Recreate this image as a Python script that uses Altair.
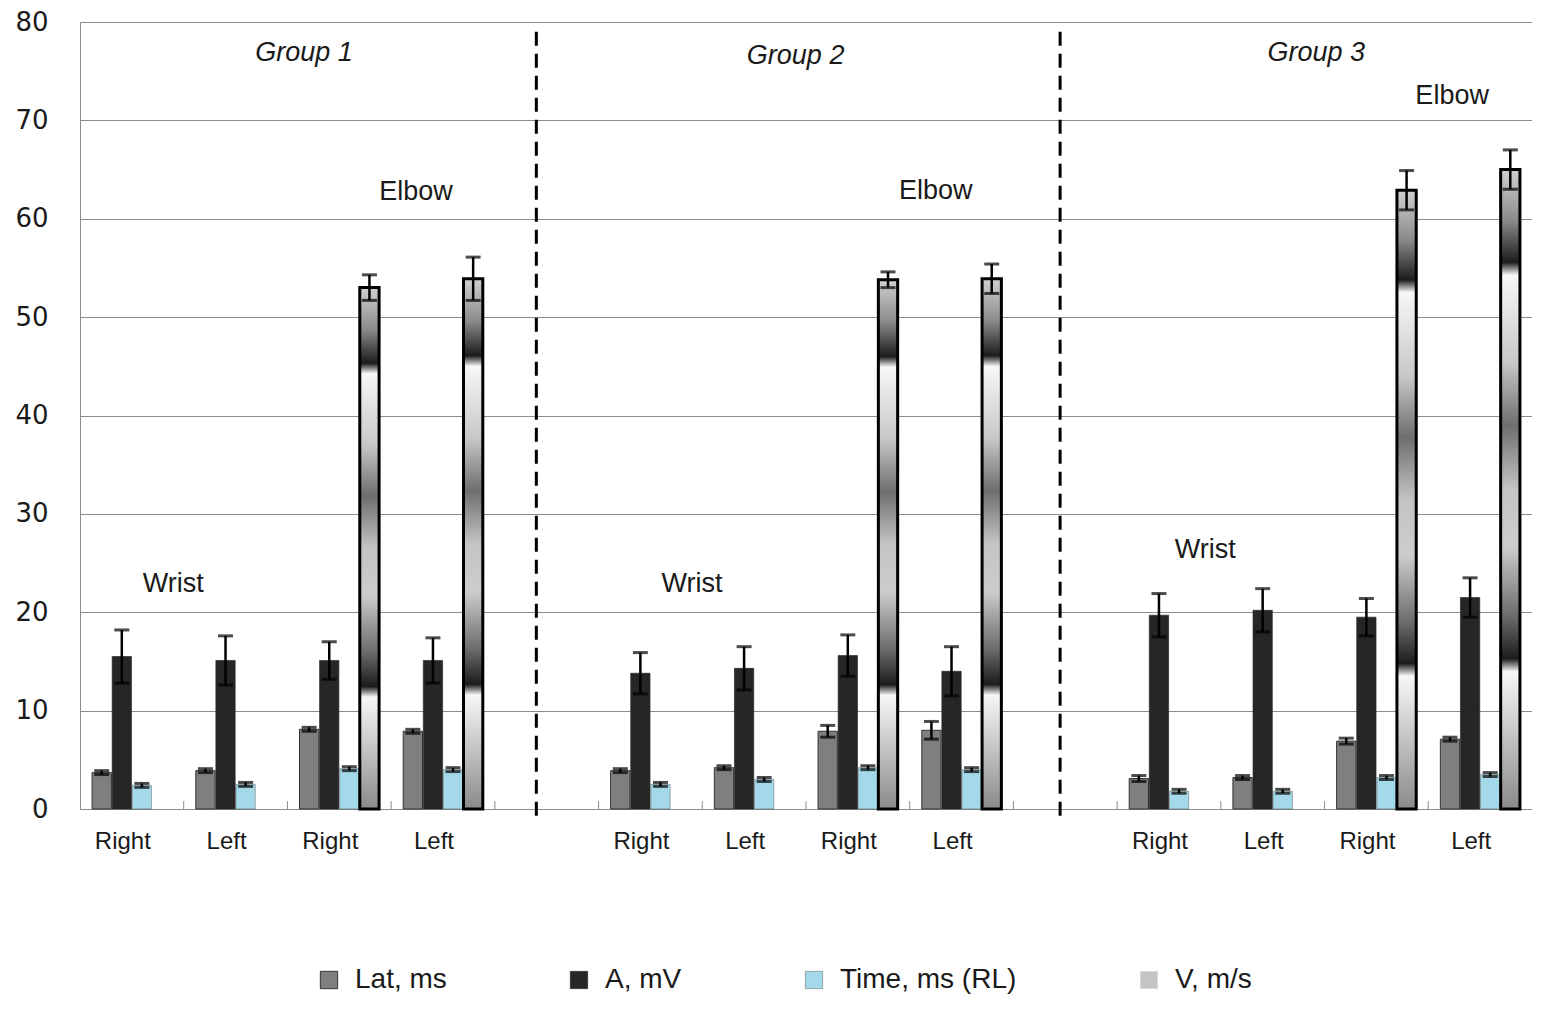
import altair as alt
import pandas as pd

# ---------------- data ----------------
groups = ["Group 1", "Group 2", "Group 3"]
sites = ["Wrist", "Wrist", "Elbow", "Elbow"]
sides = ["Right", "Left", "Right", "Left"]

series_names = ["Lat, ms", "A, mV", "Time, ms (RL)", "V, m/s"]

lat = [3.7, 3.9, 8.1, 7.9, 3.9, 4.2, 7.9, 8.0, 3.1, 3.2, 6.9, 7.1]
lat_err = [0.2, 0.2, 0.2, 0.2, 0.2, 0.2, 0.6, 0.9, 0.3, 0.2, 0.3, 0.2]
amp = [15.5, 15.1, 15.1, 15.1, 13.8, 14.3, 15.6, 14.0, 19.7, 20.2, 19.5, 21.5]
amp_err = [2.7, 2.5, 1.9, 2.3, 2.1, 2.2, 2.1, 2.5, 2.2, 2.2, 1.9, 2.0]
time = [2.4, 2.5, 4.1, 4.0, 2.5, 3.0, 4.2, 4.0, 1.8, 1.8, 3.2, 3.5]
time_err = [0.2, 0.2, 0.2, 0.2, 0.2, 0.2, 0.2, 0.2, 0.2, 0.2, 0.2, 0.2]
vel = [None, None, 53.0, 53.9, None, None, 53.8, 53.9, None, None, 62.9, 65.0]
vel_err = [None, None, 1.3, 2.2, None, None, 0.8, 1.5, None, None, 2.0, 2.0]

ann_group_text = ["Group 1", "Group 2", "Group 3"]
ann_group_x = [2.16, 6.9, 11.92]
ann_group_y = [76.8, 76.5, 76.8]
ann_site_text = ["Wrist", "Wrist", "Wrist", "Elbow", "Elbow", "Elbow"]
ann_site_x = [0.9, 5.9, 10.85, 3.24, 8.25, 13.23]
ann_site_y = [22.85, 22.85, 26.3, 62.7, 62.8, 72.5]

divider_x = [4.4, 9.45]
boundary_x = list(range(1, 14))

# ---------------- build tables ----------------
cats = []
rows = []
i = 0
for gi, g in enumerate(groups):
    for k in range(4):
        key = f"{g}|{sites[k]}|{sides[k]}"
        cats.append(key)
        for s, vals, errs in zip(series_names,
                                 [lat, amp, time, vel],
                                 [lat_err, amp_err, time_err, vel_err]):
            rows.append({"cat": key, "series": s, "outline": s,
                         "value": vals[i], "err": errs[i]})
        i += 1
    if gi < 2:
        cats.append(f"gap{gi + 1}")

df = pd.DataFrame(rows)
df = df[df["value"].notna()]

ann_g = pd.DataFrame({"t": ann_group_text, "x": ann_group_x, "y": ann_group_y})
ann_s = pd.DataFrame({"t": ann_site_text, "x": ann_site_x, "y": ann_site_y})
div_df = pd.DataFrame({"x": divider_x, "y": [79.0] * len(divider_x), "y2": [-0.8] * len(divider_x)})
bnd_df = pd.DataFrame({"x": boundary_x, "y": [0.0] * len(boundary_x), "y2": [0.8] * len(boundary_x)})

# ---------------- encodings ----------------
FONT = "Liberation Sans"
x_enc = alt.X("cat:N", sort=cats,
              scale=alt.Scale(domain=cats, paddingInner=0, paddingOuter=0),
              axis=alt.Axis(title=None, ticks=False, labelFontSize=24, labelFont=FONT,
                            labelColor="#1a1a1a", labelPadding=20, labelOffset=-9,
                            labelAngle=0, domainColor="#8c8c8c", grid=False,
                            labelExpr="indexof(datum.value, '|') >= 0 ? split(datum.value, '|')[2] : ''"))
xo_enc = alt.XOffset("series:N", sort=series_names,
                     scale=alt.Scale(domain=series_names, paddingInner=0.04, paddingOuter=0.6))
y_scale = alt.Scale(domain=[0, 80], nice=False, zero=True)
y_axis = alt.Axis(title=None, values=list(range(0, 81, 10)), ticks=False, labelFontSize=26,
                  labelFont="DejaVu Sans", labelColor="#1a1a1a", labelPadding=32,
                  domainColor="#8c8c8c", gridColor="#8c8c8c", gridWidth=1)

base = alt.Chart(df)

bars = base.mark_bar(stroke="#111111", strokeWidth=2.5).encode(
    x=x_enc,
    xOffset=xo_enc,
    y=alt.Y("value:Q", scale=y_scale, axis=y_axis),
    color=alt.Color("series:N", sort=series_names,
                    scale=alt.Scale(domain=series_names,
                                    range=["#7f7f7f", "#262626", "#a3d9e8", "#c4c4c4"]),
                    legend=alt.Legend(title=None, orient="none", direction="horizontal",
                                      legendX=235, legendY=944,
                                      labelFont=FONT, labelFontSize=28, labelColor="#1a1a1a",
                                      labelLimit=0,
                                      symbolType="square", symbolSize=300,
                                      symbolStrokeColor="#111111", symbolStrokeWidth=2.5,
                                      labelOffset=12, columnPadding=118)),
    stroke=alt.Stroke("outline:N", sort=series_names,
                      scale=alt.Scale(domain=series_names,
                                      range=["#333333", "#262626", "#1a1a1a", "#000000"]),
                      legend=None),
    strokeWidth=alt.StrokeWidth("outline:N", sort=series_names,
                                scale=alt.Scale(domain=series_names, range=[1, 0, 2, 3]),
                                legend=None),
)

gradient = {
    "gradient": "linear", "x1": 0, "y1": 1, "x2": 0, "y2": 0,
    "stops": [
        {"offset": 0.00, "color": "#8a8a8a"},
        {"offset": 0.10, "color": "#bdbdbd"},
        {"offset": 0.215, "color": "#f7f7f7"},
        {"offset": 0.235, "color": "#1c1c1c"},
        {"offset": 0.30, "color": "#6a6a6a"},
        {"offset": 0.41, "color": "#cccccc"},
        {"offset": 0.50, "color": "#c4c4c4"},
        {"offset": 0.60, "color": "#6e6e6e"},
        {"offset": 0.70, "color": "#c8c8c8"},
        {"offset": 0.835, "color": "#f7f7f7"},
        {"offset": 0.855, "color": "#1c1c1c"},
        {"offset": 0.92, "color": "#8a8a8a"},
        {"offset": 1.00, "color": "#d2d2d2"},
    ],
}

vbars = base.transform_filter(alt.datum.series == "V, m/s").mark_bar(
    fill=gradient, stroke="#000000", strokeWidth=3
).encode(x=x_enc, xOffset=xo_enc, y=alt.Y("value:Q", scale=y_scale, axis=y_axis))

err_base = base.transform_calculate(lo="datum.value - datum.err", hi="datum.value + datum.err")

err_rule = err_base.mark_rule(color="#000000", strokeWidth=2.5).encode(
    x=x_enc, xOffset=xo_enc,
    y=alt.Y("lo:Q", scale=y_scale, axis=y_axis), y2="hi:Q")
cap_lo = err_base.mark_tick(color="#000000", thickness=3, size=15).encode(
    x=x_enc, xOffset=xo_enc, y=alt.Y("lo:Q", scale=y_scale, axis=y_axis))
cap_hi = err_base.mark_tick(color="#000000", thickness=3, size=15).encode(
    x=x_enc, xOffset=xo_enc, y=alt.Y("hi:Q", scale=y_scale, axis=y_axis))

main = alt.layer(bars, vbars, err_rule, cap_lo, cap_hi)

# ---------------- annotation layer (category units) ----------------
xq = alt.Scale(domain=[0, 14], nice=False, zero=False)

group_txt = alt.Chart(ann_g).mark_text(font=FONT, fontSize=27, fontStyle="italic",
                                       color="#1a1a1a").encode(
    x=alt.X("x:Q", scale=xq, axis=None),
    y=alt.Y("y:Q", scale=y_scale, axis=y_axis), text="t:N")
site_txt = alt.Chart(ann_s).mark_text(font=FONT, fontSize=27, color="#1a1a1a").encode(
    x=alt.X("x:Q", scale=xq, axis=None),
    y=alt.Y("y:Q", scale=y_scale, axis=y_axis), text="t:N")
dividers = alt.Chart(div_df).mark_rule(color="#000000", strokeWidth=3, strokeDash=[14, 8]).encode(
    x=alt.X("x:Q", scale=xq, axis=None),
    y=alt.Y("y:Q", scale=y_scale, axis=y_axis), y2="y2:Q")
bticks = alt.Chart(bnd_df).mark_rule(color="#8c8c8c", strokeWidth=1).encode(
    x=alt.X("x:Q", scale=xq, axis=None),
    y=alt.Y("y:Q", scale=y_scale, axis=y_axis), y2="y2:Q")

ann = alt.layer(bticks, dividers, group_txt, site_txt)

chart = alt.layer(main, ann).resolve_scale(x="independent").properties(
    width=1452, height=787,
    autosize=alt.AutoSizeParams(type="none"),
    padding={"left": 72, "top": 14, "right": 0, "bottom": 190},
    background="white",
).configure_view(stroke=None)

chart.save("out.html", embed_options={"renderer": "svg", "actions": False})
